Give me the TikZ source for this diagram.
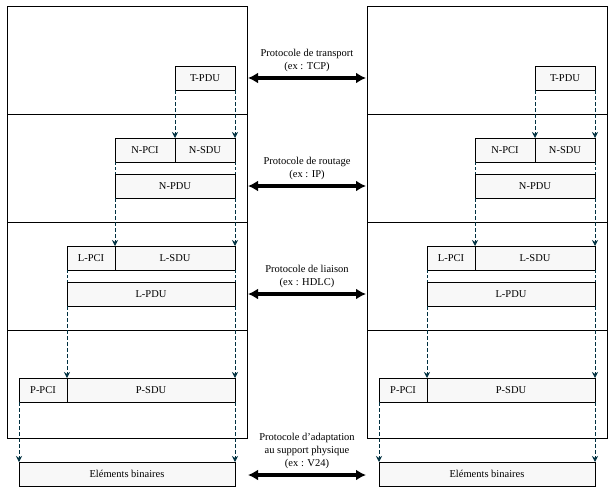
\documentclass[tikz,border=0pt]{standalone}
\usepackage{fontspec}
\setmainfont{Liberation Serif}
\usepackage{xcolor}
\usepackage{tikz}
\usetikzlibrary{arrows.meta}
\definecolor{flow}{RGB}{0,48,64}
\definecolor{boxfill}{RGB}{248,248,248}
\tikzset{
  pdu/.style={draw=black, fill=boxfill, line width=0.8pt, inner sep=0pt, outer sep=0pt,
    minimum height=24pt, anchor=north west},
  encap/.style={draw=flow, line width=0.8pt, dash pattern=on 4pt off 2pt,
    -{Stealth[length=6pt,width=6pt]}},
  pdulink/.style={draw=flow, line width=0.8pt, dash pattern=on 3pt off 2pt},
  proto/.style={line width=3.5pt, {Latex[length=10pt,width=11pt]}-{Latex[length=10pt,width=11pt]}},
  protolbl/.style={align=center, anchor=south, inner sep=0pt}
}

\begin{document}
\begin{tikzpicture}[x=1pt, y=-1pt, font=\fontsize{10.5}{13}\selectfont]
    \useasboundingbox (0,0) rectangle (615,492);
    \foreach \s/\dx in {l/0, r/360}{
      % layers
      \draw[line width=0.8pt] (\dx+7,6) rectangle (\dx+247,438);
      \foreach \y in {114,222,330}{
        \draw[line width=0.8pt] (\dx+7,\y) -- (\dx+247,\y);
      }
      % data units
      \node[pdu, minimum width=60pt] (\s-tpdu) at (\dx+175,66) {T-PDU};
      \node[pdu, minimum width=60pt] (\s-npci) at (\dx+115,138) {N-PCI};
      \node[pdu, minimum width=60pt] (\s-nsdu) at (\dx+175,138) {N-SDU};
      \node[pdu, minimum width=120pt] (\s-npdu) at (\dx+115,174) {N-PDU};
      \node[pdu, minimum width=48pt] (\s-lpci) at (\dx+67,246) {L-PCI};
      \node[pdu, minimum width=120pt] (\s-lsdu) at (\dx+115,246) {L-SDU};
      \node[pdu, minimum width=168pt] (\s-lpdu) at (\dx+67,282) {L-PDU};
      \node[pdu, minimum width=48pt] (\s-ppci) at (\dx+19,378) {P-PCI};
      \node[pdu, minimum width=168pt] (\s-psdu) at (\dx+67,378) {P-SDU};
      \node[pdu, minimum width=216pt] (\s-bits) at (\dx+19,462) {Eléments binaires};
      % encapsulation
      \draw[encap] (\s-tpdu.south west) -- (\s-nsdu.north west);
      \draw[encap] (\s-tpdu.south east) -- (\s-nsdu.north east);
      \draw[pdulink] (\s-npci.south west) -- (\s-npdu.north west);
      \draw[pdulink] (\s-nsdu.south east) -- (\s-npdu.north east);
      \draw[encap] (\s-npdu.south west) -- (\s-lsdu.north west);
      \draw[encap] (\s-npdu.south east) -- (\s-lsdu.north east);
      \draw[pdulink] (\s-lpci.south west) -- (\s-lpdu.north west);
      \draw[pdulink] (\s-lsdu.south east) -- (\s-lpdu.north east);
      \draw[encap] (\s-lpdu.south west) -- (\s-psdu.north west);
      \draw[encap] (\s-lpdu.south east) -- (\s-psdu.north east);
      \draw[encap] (\s-ppci.south west) -- (\s-bits.north west);
      \draw[encap] (\s-psdu.south east) -- (\s-bits.north east);
    }
    
    % peer protocols
    \coordinate (tcp-l) at (248,78);
    \coordinate (tcp-r) at (366,78);
    \coordinate (ip-l) at (248,186);
    \coordinate (ip-r) at (366,186);
    \coordinate (hdlc-l) at (248,294);
    \coordinate (hdlc-r) at (366,294);
    \coordinate (v24-l) at (248,475);
    \coordinate (v24-r) at (366,475);
    \draw[proto] (tcp-l) -- (tcp-r);
    \draw[proto] (ip-l) -- (ip-r);
    \draw[proto] (hdlc-l) -- (hdlc-r);
    \draw[proto] (v24-l) -- (v24-r);
    \node[protolbl] (tcp-lbl) at (307,72) {Protocole de transport\\(ex : TCP)};
    \node[protolbl] (ip-lbl) at (307,180) {Protocole de routage\\(ex : IP)};
    \node[protolbl] (hdlc-lbl) at (307,288) {Protocole de liaison\\(ex : HDLC)};
    \node[protolbl] (v24-lbl) at (307,469) {Protocole d’adaptation\\au support physique\\(ex : V24)};
  \end{tikzpicture}
\end{document}
